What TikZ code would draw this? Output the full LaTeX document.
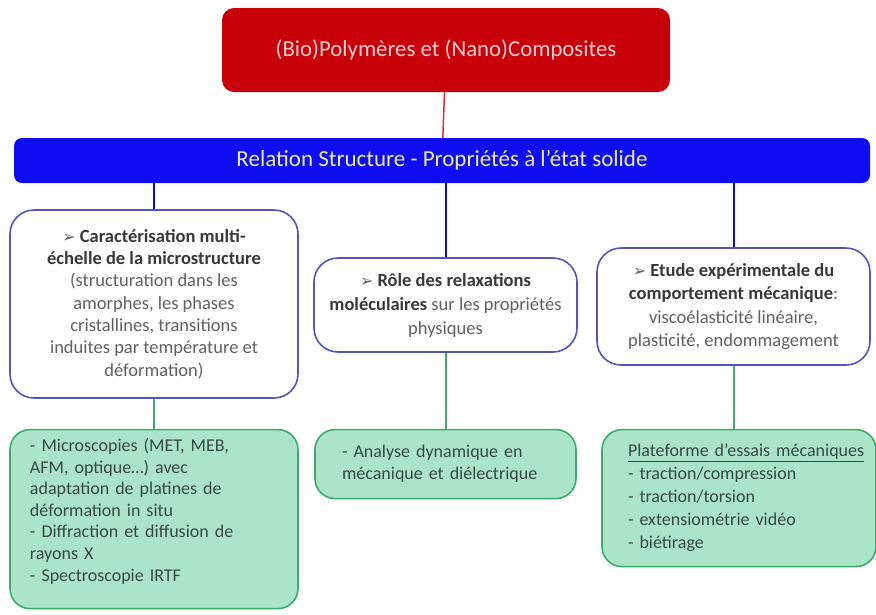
\documentclass[tikz,border=0pt]{standalone}
\usepackage{fontspec}
\setmainfont{Carlito}
\newfontfamily\symfont{DejaVu Sans}
\usetikzlibrary{positioning}
\definecolor{cRed}{rgb}{0.78,0.0,0.04}
\definecolor{cRedTxt}{rgb}{0.96,0.80,0.80}
\definecolor{cBlue}{rgb}{0.05,0.05,0.94}
\definecolor{cBlueTxt}{rgb}{0.92,0.92,0.62}
\definecolor{cFrame}{rgb}{0.33,0.33,0.74}
\definecolor{cGreen}{rgb}{0.24,0.67,0.42}
\definecolor{cGreenFill}{rgb}{0.67,0.90,0.78}
\definecolor{cTxt}{rgb}{0.22,0.22,0.22}
\definecolor{cTxtG}{rgb}{0.22,0.29,0.25}
\newcommand{\puce}{{\symfont\fontsize{16}{16}\selectfont ➢}}
\tikzset{mytitle/.style={
  shape=rectangle,
  rounded corners=12pt,
  fill=cRed,
  minimum width=448pt,
  minimum height=84pt,
  text=cRedTxt,
  font=\fontsize{22.8}{26}\selectfont,
  }
}
\tikzset{mybar/.style={
  shape=rectangle,
  rounded corners=8pt,
  fill=cBlue,
  minimum width=856pt,
  minimum height=45pt,
  text=cBlueTxt,
  font=\fontsize{23}{26}\selectfont,
  }
}
\tikzset{mywhite/.style={
  shape=rectangle,
  rounded corners=24pt,
  draw=cFrame,
  line width=1.6pt,
  fill=white,
  align=center,
  text=cTxt!80,
  font=\fontsize{18.5}{22.3}\selectfont,
  }
}
\tikzset{mygreen/.style={
  shape=rectangle,
  rounded corners=20pt,
  draw=cGreen,
  line width=1.6pt,
  fill=cGreenFill,
  align=left,
  text=cTxtG,
  font=\fontsize{18}{22}\selectfont,
  }
}

\begin{document}
\begin{tikzpicture}[x=1pt,y=-1pt]
  \useasboundingbox (0,0) rectangle (876,614);

  \node [mytitle] (poly) at (446,50) {(Bio)Polymères et (Nano)Composites};
  \node [mybar] (relation) at (442,160.5) {Relation Structure - Propriétés à l’état solide};

  \node [mywhite, minimum width=288pt, minimum height=188pt] (carac) at (154,304)
    {\puce\ \textbf{\color{cTxt}Caractérisation multi-}\\
     \textbf{\color{cTxt}échelle de la microstructure}\\
     (structuration dans les\\ amorphes, les phases\\ cristallines, transitions\\
     induites par température et\\ déformation)};
  \node [mywhite, minimum width=263pt, minimum height=94pt,
         font=\fontsize{18.5}{24}\selectfont] (role) at (445.5,305)
    {\puce\ \textbf{\color{cTxt}Rôle des relaxations}\\
     \textbf{\color{cTxt}moléculaires} sur les propriétés\\ physiques};
  \node [mywhite, minimum width=273pt, minimum height=117pt,
         font=\fontsize{18.5}{23.3}\selectfont] (etude) at (733.5,306.5)
    {\puce\ \textbf{\color{cTxt}Etude expérimentale du}\\
     \textbf{\color{cTxt}comportement mécanique}:\\
     viscoélasticité linéaire,\\ plasticité, endommagement};

  \node [mygreen, minimum width=288pt, minimum height=179pt, text width=248pt,
         font=\fontsize{18}{21.6}\selectfont,
         below=30pt of carac] (micro)
    {- Microscopies (MET, MEB,\\ AFM, optique…) avec\\ adaptation de platines de\\
     déformation in situ\\ - Diffraction et diffusion de\\ rayons X\\ - Spectroscopie IRTF\par\vspace*{16pt}};
  \node [mygreen, minimum width=261pt, minimum height=69pt, text width=207pt,
         below=76pt of role] (dma)
    {- Analyse dynamique en\\ mécanique et diélectrique};
  \node [mygreen, minimum width=274pt, minimum height=137pt, text width=222pt,
         font=\fontsize{18}{23}\selectfont,
         below=63pt of etude, xshift=5.5pt] (plateforme)
    {\underline{Plateforme d’essais mécaniques}\\ - traction/compression\\
     - traction/torsion\\ - extensiométrie vidéo\\ - biétirage};

  \draw [cRed!80, line width=1.5pt] (poly) -- (relation);
  \draw [cBlue!85!black, line width=2pt] (relation.south -| carac.north) -- (carac.north);
  \draw [cBlue!85!black, line width=2pt] (relation.south -| role.north) -- (role.north);
  \draw [cBlue!85!black, line width=2pt] (relation.south -| etude.north) -- (etude.north);
  \draw [cGreen, line width=2pt] (carac) -- (micro);
  \draw [cGreen, line width=2pt] (role) -- (dma);
  \draw [cGreen, line width=2pt] (etude.south) -- (etude.south |- plateforme.north);
\end{tikzpicture}
\end{document}
